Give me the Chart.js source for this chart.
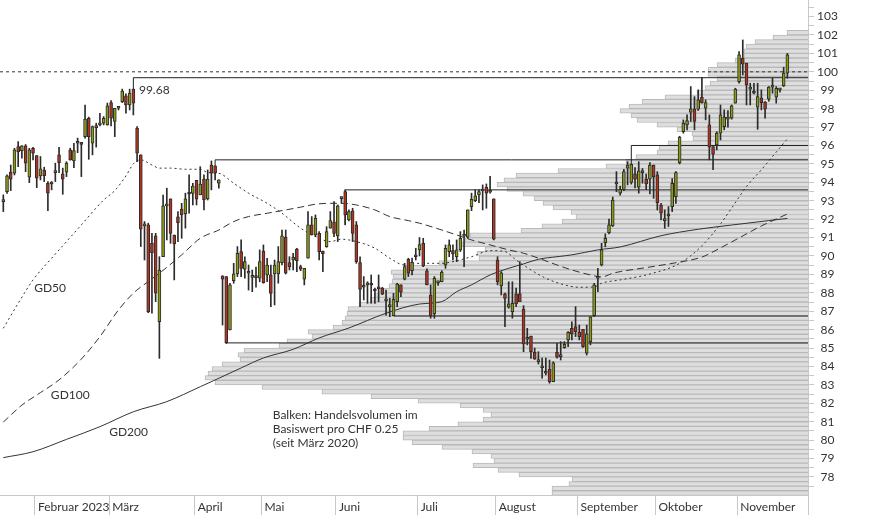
<!DOCTYPE html>
<html>
<head>
<meta charset="utf-8">
<script src="https://cdn.jsdelivr.net/npm/chart.js@4"></script>
<style>
  html, body { margin: 0; padding: 0; background: #fff; }
  #wrap { width: 874px; height: 515px; }
  canvas { display: block; }
</style>
</head>
<body>
<div id="wrap"><canvas id="chart" width="874" height="515" style="width:874px;height:515px"></canvas></div>
<script>
// Handelstage ab 19.01.2023 (Index 0) bis 21.11.2023
const dayOpen = [
  92.95, 93.49, 94.55, 94.49, 95.94, 95.72, 95.98, 94.28, 95.85, 95.45,
  94.35, 94.67, 93.95, 93.91, 94.53, 95.49, 94.46, 94.55, 95.76, 95.16,
  96.12, 96.08, 96.48, 97.48, 96.12, 96.97, 97.12, 97.21, 97.12, 98.33,
  97.30, 98.02, 98.38, 98.69, 98.20, 99.06, 96.94, 95.49, 91.63, 91.69,
  90.69, 91.09, 86.43, 89.96, 92.72, 93.10, 91.14, 92.12, 92.55, 92.30,
  93.46, 93.39, 94.11, 93.32, 94.18, 93.10, 94.94, 94.89, 93.95, 88.92,
  88.88, 85.98, 88.66, 89.03, 90.24, 89.28, 89.06, 88.84, 88.84, 88.79,
  90.27, 88.97, 88.97, 89.02, 89.02, 89.64, 91.02, 89.64, 89.78, 90.37,
  89.42, 88.74, 89.88, 91.69, 91.14, 91.23, 90.27, 90.51, 91.51, 91.86,
  91.09, 93.11, 93.49, 91.96, 92.45, 91.69, 89.64, 88.30, 88.43, 88.43,
  88.19, 88.28, 88.25, 87.57, 87.25, 86.76, 87.52, 88.43, 88.74, 89.82,
  89.20, 89.96, 90.33, 90.69, 89.19, 87.88, 86.85, 88.55, 88.60, 89.51,
  90.24, 90.29, 89.96, 90.33, 91.07, 91.02, 92.68, 93.00, 93.31, 93.53,
  93.73, 93.46, 93.10, 89.78, 88.37, 87.94, 87.22, 86.98, 87.94, 87.94,
  87.12, 85.48, 85.65, 84.77, 84.26, 83.93, 83.63, 83.85, 83.17, 84.77,
  84.53, 85.02, 85.44, 86.07, 86.16, 85.86, 86.02, 84.72, 85.35, 86.76,
  88.79, 89.51, 90.72, 91.27, 91.63, 93.91, 93.41, 93.62, 94.77, 94.00,
  94.45, 93.73, 94.53, 94.18, 94.17, 94.94, 94.40, 92.77, 91.92, 92.17,
  92.68, 93.22, 95.07, 96.75, 97.12, 97.81, 97.97, 97.97, 98.62, 98.02,
  97.12, 95.94, 96.03, 96.67, 97.02, 97.43, 97.48, 98.30, 99.47, 100.74,
  100.47, 99.06, 98.96, 98.08, 98.57, 98.35, 98.51, 99.17, 98.62, 99.02,
  99.25, 99.93
];
const dayHigh = [
  93.32, 94.40, 94.94, 95.85, 96.21, 96.00, 96.05, 95.85, 95.90, 95.45,
  95.40, 94.82, 94.04, 94.04, 95.04, 95.90, 94.77, 95.12, 95.85, 96.12,
  96.40, 96.12, 98.20, 97.54, 97.06, 97.21, 97.75, 97.57, 98.30, 98.44,
  98.02, 98.11, 99.06, 98.80, 99.06, 99.06, 97.02, 95.49, 91.87, 91.78,
  91.23, 91.23, 89.96, 93.31, 93.68, 93.10, 91.14, 92.41, 92.86, 93.41,
  94.40, 93.95, 94.11, 94.85, 94.40, 94.67, 95.16, 94.89, 94.13, 88.92,
  88.88, 88.52, 89.60, 90.51, 90.87, 89.96, 89.51, 89.24, 89.40, 90.33,
  90.60, 89.87, 89.51, 89.78, 90.51, 91.41, 91.41, 89.96, 90.15, 90.42,
  89.50, 89.33, 92.41, 92.14, 92.23, 91.32, 90.27, 91.59, 92.41, 92.95,
  92.77, 93.22, 93.59, 92.50, 92.59, 91.87, 89.96, 88.88, 88.60, 88.97,
  88.25, 88.97, 88.30, 88.15, 87.70, 87.97, 88.52, 88.43, 89.60, 89.88,
  89.88, 90.42, 91.00, 90.96, 89.30, 88.43, 88.88, 88.60, 89.20, 90.60,
  90.87, 90.60, 90.87, 91.32, 91.41, 92.50, 93.41, 93.59, 93.59, 93.86,
  93.91, 94.33, 93.10, 89.96, 89.15, 87.98, 88.60, 88.60, 88.25, 89.69,
  87.30, 86.07, 85.65, 85.00, 84.80, 84.45, 84.45, 84.35, 84.26, 85.26,
  85.35, 85.35, 85.89, 86.43, 87.25, 86.25, 86.02, 86.25, 86.70, 88.52,
  89.33, 90.69, 91.20, 92.00, 93.20, 94.58, 93.80, 94.70, 95.12, 95.00,
  94.80, 95.12, 94.75, 94.45, 95.07, 94.94, 94.58, 92.86, 92.50, 92.68,
  94.20, 94.58, 96.50, 97.39, 97.66, 99.20, 98.65, 99.02, 99.70, 98.48,
  97.66, 95.94, 96.75, 98.20, 97.93, 97.90, 98.20, 99.11, 101.10, 101.73,
  100.47, 99.38, 99.38, 99.38, 99.02, 98.38, 99.20, 99.65, 99.20, 99.10,
  100.25, 101.00
];
const dayLow = [
  92.41, 93.40, 93.55, 94.40, 94.85, 95.31, 94.58, 93.98, 95.22, 93.71,
  94.13, 94.04, 92.46, 93.59, 94.04, 94.53, 93.35, 94.31, 95.20, 94.80,
  95.61, 94.31, 96.40, 95.25, 95.49, 95.91, 97.06, 97.12, 97.10, 97.06,
  96.48, 97.93, 98.33, 97.75, 97.93, 97.66, 95.12, 90.51, 89.78, 86.92,
  86.89, 87.52, 84.44, 89.96, 90.87, 90.69, 88.70, 90.78, 90.96, 91.51,
  92.32, 92.77, 92.77, 93.32, 92.50, 93.04, 93.59, 94.13, 93.68, 86.25,
  85.25, 85.98, 88.52, 88.88, 88.88, 88.79, 88.15, 88.06, 88.30, 88.60,
  88.52, 88.60, 87.25, 87.34, 88.52, 89.51, 89.02, 89.24, 89.24, 89.15,
  89.20, 88.43, 89.88, 91.14, 91.05, 89.78, 89.15, 90.47, 91.51, 91.05,
  90.78, 92.86, 91.69, 91.90, 90.78, 89.60, 87.25, 87.61, 87.43, 87.43,
  87.43, 87.52, 87.90, 86.79, 86.70, 86.76, 87.25, 87.79, 88.70, 88.88,
  88.97, 89.78, 90.00, 89.42, 88.43, 86.62, 86.62, 88.40, 88.60, 89.33,
  89.96, 89.78, 89.69, 90.24, 89.42, 90.96, 92.46, 92.95, 92.90, 92.50,
  92.59, 93.41, 90.87, 88.43, 87.88, 86.16, 87.16, 86.62, 87.25, 87.52,
  84.80, 85.17, 84.44, 84.39, 84.13, 83.36, 83.54, 83.09, 83.17, 84.45,
  84.35, 84.99, 85.07, 85.44, 85.62, 85.44, 85.04, 84.62, 85.17, 86.70,
  88.06, 89.46, 90.50, 91.20, 91.60, 93.49, 93.30, 93.55, 93.86, 93.90,
  93.70, 93.41, 93.95, 93.60, 93.37, 93.13, 92.50, 91.96, 91.50, 91.60,
  92.41, 92.86, 95.00, 96.67, 96.85, 97.30, 96.85, 97.90, 98.30, 97.39,
  95.22, 94.68, 95.76, 96.30, 96.85, 97.00, 97.43, 98.30, 99.38, 99.83,
  98.20, 98.20, 98.80, 96.88, 97.93, 97.48, 98.40, 98.84, 98.30, 98.90,
  99.20, 99.65
];
const dayClose = [
  92.97, 94.35, 94.17, 95.76, 95.67, 95.98, 95.04, 95.76, 95.58, 94.22,
  94.73, 94.36, 93.41, 93.93, 94.55, 95.07, 94.17, 95.04, 95.22, 95.72,
  96.14, 96.06, 97.43, 96.48, 97.02, 96.99, 97.14, 97.48, 98.15, 97.48,
  98.02, 98.04, 98.96, 98.20, 98.84, 98.30, 95.58, 91.45, 91.65, 86.98,
  90.18, 87.98, 89.24, 92.72, 92.74, 91.23, 90.65, 91.81, 92.23, 93.10,
  93.35, 93.80, 93.08, 93.90, 93.04, 94.18, 94.49, 94.49, 94.13, 88.74,
  85.29, 88.43, 89.03, 90.15, 89.33, 89.69, 89.08, 88.86, 88.82, 89.69,
  88.55, 89.51, 87.97, 89.51, 89.69, 91.09, 89.06, 89.42, 89.93, 89.75,
  89.28, 89.33, 91.69, 91.14, 92.05, 90.24, 90.13, 91.32, 91.92, 91.23,
  92.72, 93.13, 92.23, 92.41, 91.23, 89.69, 88.19, 88.32, 88.45, 88.41,
  88.10, 88.22, 87.92, 87.59, 87.27, 87.65, 88.47, 88.03, 89.42, 89.06,
  89.66, 89.98, 90.62, 89.46, 88.43, 86.76, 88.79, 88.57, 89.13, 90.42,
  90.60, 90.11, 90.33, 90.96, 91.09, 92.50, 93.08, 93.26, 93.49, 93.55,
  93.41, 93.48, 90.91, 88.60, 89.09, 87.70, 87.40, 87.43, 87.40, 87.52,
  85.22, 85.50, 84.80, 84.39, 84.28, 83.95, 83.65, 83.17, 84.20, 84.50,
  84.55, 85.20, 85.86, 85.77, 85.89, 85.62, 85.07, 85.77, 86.70, 88.43,
  88.81, 90.33, 90.96, 91.69, 93.04, 93.93, 93.62, 94.58, 94.94, 94.98,
  94.17, 94.63, 94.55, 93.91, 94.94, 94.31, 92.90, 92.32, 91.94, 92.19,
  93.95, 94.53, 96.45, 97.21, 97.35, 97.99, 97.30, 98.48, 98.33, 98.33,
  95.91, 95.53, 96.67, 97.66, 97.54, 97.45, 98.15, 99.06, 100.92, 100.41,
  99.29, 99.08, 98.84, 98.66, 98.33, 97.97, 99.17, 99.19, 99.11, 99.04,
  99.93, 100.92
];

const gd50Day = [0, 4, 8, 13, 17, 21, 27, 30, 33, 35, 37, 40, 42, 45, 49, 53, 55, 58, 62, 66, 71, 75, 80, 84, 88, 91, 95, 100, 104, 108, 112, 118, 121, 126, 131, 135, 138, 142, 146, 151, 155, 159, 161, 166, 174, 182, 188, 193, 196, 200, 204, 207, 211];
const gd50 = [86.07, 87.43, 88.70, 89.88, 90.78, 91.69, 93.04, 93.55, 94.35, 95.00, 95.22, 94.94, 94.77, 94.77, 94.71, 94.71, 94.53, 94.49, 93.95, 93.41, 92.86, 92.32, 91.51, 91.05, 90.78, 90.91, 90.78, 90.42, 89.88, 89.51, 89.60, 89.60, 89.69, 89.96, 90.29, 90.24, 89.78, 89.24, 88.79, 88.43, 88.30, 88.32, 88.52, 88.70, 89.02, 89.60, 90.55, 91.74, 92.60, 93.77, 94.68, 95.40, 96.36];
const gd100Day = [0, 5, 10, 15, 21, 26, 31, 35, 39, 42, 48, 53, 58, 62, 66, 71, 76, 80, 84, 88, 91, 95, 100, 104, 109, 112, 118, 122, 126, 131, 136, 140, 144, 149, 153, 158, 161, 164, 166, 174, 182, 188, 193, 198, 204, 211];
const gd100 = [80.98, 81.90, 82.58, 83.27, 84.40, 85.62, 87.07, 87.98, 88.61, 89.06, 90.06, 90.96, 91.41, 91.87, 92.14, 92.32, 92.50, 92.65, 92.81, 92.86, 92.86, 92.77, 92.50, 92.14, 91.92, 91.78, 91.41, 91.14, 90.87, 90.60, 90.33, 90.15, 89.88, 89.51, 89.24, 88.97, 88.86, 89.06, 89.15, 89.40, 89.67, 89.94, 90.44, 90.98, 91.63, 92.28];
const gd200Day = [0, 8, 17, 26, 35, 44, 53, 58, 64, 70, 78, 85, 93, 103, 112, 118, 122, 126, 131, 136, 140, 144, 149, 153, 160, 166, 177, 187, 196, 206, 211];
const gd200 = [79.05, 79.37, 80.04, 80.73, 81.54, 82.09, 82.90, 83.36, 83.92, 84.46, 84.93, 85.55, 86.09, 86.89, 87.39, 87.52, 88.06, 88.43, 88.97, 89.33, 89.57, 89.82, 89.96, 90.06, 90.33, 90.49, 91.10, 91.45, 91.68, 91.92, 92.04];

// Widerstands-/Unterstützungslinien
const levelPrice = [99.68, 96.00, 95.22, 93.59, 86.74, 85.28];
const levelFromDay = [35, 169, 57, 92, 105, 60];
const refPrice = 100;

// Volumenprofil pro CHF 0.25, von 102.125 abwärts
const profileTop = 102.125;
const profileStep = 0.25;
const profileVolume = [
  21, 35, 53, 62, 64, 64, 73, 91, 100, 100,
  91, 98, 103, 111, 143, 166, 179, 188, 177, 171,
  151, 131, 116, 115, 140, 149, 151, 172, 182, 202,
  250, 292, 304, 311, 301, 285, 274, 265, 255, 237,
  232, 246, 266, 287, 338, 343, 347, 323, 331, 329,
  369, 403, 417, 415, 416, 419, 428, 433, 438, 449,
  460, 461, 463, 466, 475, 500, 496, 521, 529, 564,
  570, 568, 586, 596, 600, 603, 593, 546, 486, 437,
  390, 348, 325, 317, 325, 350, 379, 405, 405, 396,
  366, 336, 317, 314, 335, 310, 289, 236, 239, 256,
  256
];

const monthNames = ['Februar 2023', 'März', 'April', 'Mai', 'Juni', 'Juli', 'August', 'September', 'Oktober', 'November'];
const monthFirstDay = [9, 29, 52, 70, 90, 112, 133, 155, 176, 198];

const noteText = ['GD50', 'GD100', 'GD200', '99.68'];
const noteDay = [8.3, 12.8, 28.5, 36.5];
const notePrice = [88.26, 82.45, 80.44, 99.0];
const boxLines = ['Balken: Handelsvolumen im', 'Basiswert pro CHF 0.25', '(seit März 2020)'];
const boxDay = 72.5;
const boxPrice = 81.34;

const dayMin = -0.89, dayMax = 216.55;
const priceMin = 77.02, priceMax = 103.9;

const upColor = '#8c9b12';
const downColor = '#b3341f';
const inkColor = '#2b2b2b';

Chart.defaults.font.family = 'Lato';
Chart.defaults.font.size = 12;
Chart.defaults.color = '#333';

const days = dayOpen.map((v, i) => i);
const pts = (xs, ys) => xs.map((d, i) => ({ x: d, y: ys[i] }));

const maLine = (label, xs, ys, dash) => ({
  type: 'line', label, data: pts(xs, ys),
  borderColor: '#333', borderWidth: 1, borderDash: dash,
  pointRadius: 0, fill: false, cubicInterpolationMode: 'monotone', order: 6
});

const levelLines = levelPrice.map((p, k) => {
  const d = levelFromDay[k];
  const anchor = p > dayHigh[d] ? dayHigh[d] : dayLow[d];
  return {
    type: 'line', label: 'Linie ' + p,
    data: [{ x: d, y: anchor }, { x: d, y: p }, { x: dayMax, y: p }],
    borderColor: '#222', borderWidth: 1, pointRadius: 0, fill: false, tension: 0, order: 5
  };
});

const chartNotes = {
  id: 'chartNotes',
  afterDatasetsDraw(chart) {
    const { ctx } = chart;
    const x = chart.scales.x, y = chart.scales.y;
    ctx.save();
    ctx.font = '12px Lato';
    ctx.fillStyle = '#333';
    ctx.textAlign = 'left';
    ctx.textBaseline = 'middle';
    noteText.forEach((t, i) => {
      ctx.fillText(t, x.getPixelForValue(noteDay[i]), y.getPixelForValue(notePrice[i]));
    });
    const bx = x.getPixelForValue(boxDay), by = y.getPixelForValue(boxPrice);
    boxLines.forEach((t, i) => ctx.fillText(t, bx, by + i * 14));
    ctx.restore();
  }
};

new Chart(document.getElementById('chart'), {
  type: 'bar',
  data: {
    datasets: [
      {
        type: 'bar', label: 'Volumen', indexAxis: 'y', xAxisID: 'xv', yAxisID: 'yv',
        data: profileVolume.map((v, k) => ({ x: v, y: profileTop - k * profileStep })),
        backgroundColor: '#dedede', borderColor: '#b9b9b9', borderWidth: 1,
        barPercentage: 1, categoryPercentage: 1, grouped: false, order: 10
      },
      maLine('GD50', gd50Day, gd50, [2, 3]),
      maLine('GD100', gd100Day, gd100, [7, 4]),
      maLine('GD200', gd200Day, gd200, []),
      {
        type: 'line', label: '100',
        data: [{ x: dayMin, y: refPrice }, { x: dayMax, y: refPrice }],
        borderColor: '#333', borderWidth: 1, borderDash: [3, 3], pointRadius: 0, fill: false, order: 5
      },
      ...levelLines,
      {
        type: 'bar', label: 'Docht',
        data: days.map(i => ({ x: i, y: [dayLow[i], dayHigh[i]] })),
        backgroundColor: inkColor, borderWidth: 0, barThickness: 1, grouped: false, order: 2
      },
      {
        type: 'bar', label: 'Körper',
        data: days.map(i => ({ x: i, y: [Math.min(dayOpen[i], dayClose[i]), Math.max(dayOpen[i], dayClose[i])] })),
        backgroundColor: days.map(i => dayClose[i] >= dayOpen[i] ? upColor : downColor),
        borderColor: inkColor, borderWidth: 1, borderSkipped: false,
        barThickness: 3, minBarLength: 2, grouped: false, order: 1
      }
    ]
  },
  options: {
    responsive: false,
    animation: false,
    events: [],
    devicePixelRatio: 1,
    layout: { padding: 0, autoPadding: false },
    plugins: { legend: { display: false }, tooltip: { enabled: false } },
    scales: {
      x: {
        type: 'linear', position: 'bottom', min: dayMin, max: dayMax, bounds: 'data', offset: false,
        afterBuildTicks: s => {
          s.ticks = monthFirstDay.map(d => ({ value: d - 0.5 })).concat([{ value: dayMax }]);
        },
        ticks: {
          autoSkip: false, maxRotation: 0, align: 'start', labelOffset: 3, padding: -15,
          color: '#333', callback: (v, i) => monthNames[i] || ''
        },
        grid: { drawOnChartArea: false, tickLength: 20, color: '#c8c8c8', offset: false },
        border: { color: '#c8c8c8' },
        afterFit: s => { s.height = 20; s.paddingLeft = 0; s.paddingRight = 0; }
      },
      y: {
        type: 'linear', position: 'right', min: priceMin, max: priceMax, bounds: 'data',
        afterBuildTicks: s => {
          const t = [];
          for (let h = 155; h <= 207; h++) t.push({ value: h / 2 });
          s.ticks = t;
        },
        ticks: {
          autoSkip: false, crossAlign: 'center', padding: 3, color: '#333',
          callback: v => (Number.isInteger(v) && v >= 78 && v <= 103) ? String(v) : ''
        },
        grid: { drawOnChartArea: false, tickLength: 6, color: '#c8c8c8' },
        border: { color: '#c8c8c8' },
        afterFit: s => { s.width = 66; s.paddingTop = 0; s.paddingBottom = 0; }
      },
      xv: { type: 'linear', axis: 'x', display: false, reverse: true, min: 0, max: 808, bounds: 'data', offset: false },
      yv: { type: 'linear', axis: 'y', display: false, min: priceMin, max: priceMax, bounds: 'data', offset: false }
    }
  },
  plugins: [chartNotes]
});
</script>
</body>
</html>
